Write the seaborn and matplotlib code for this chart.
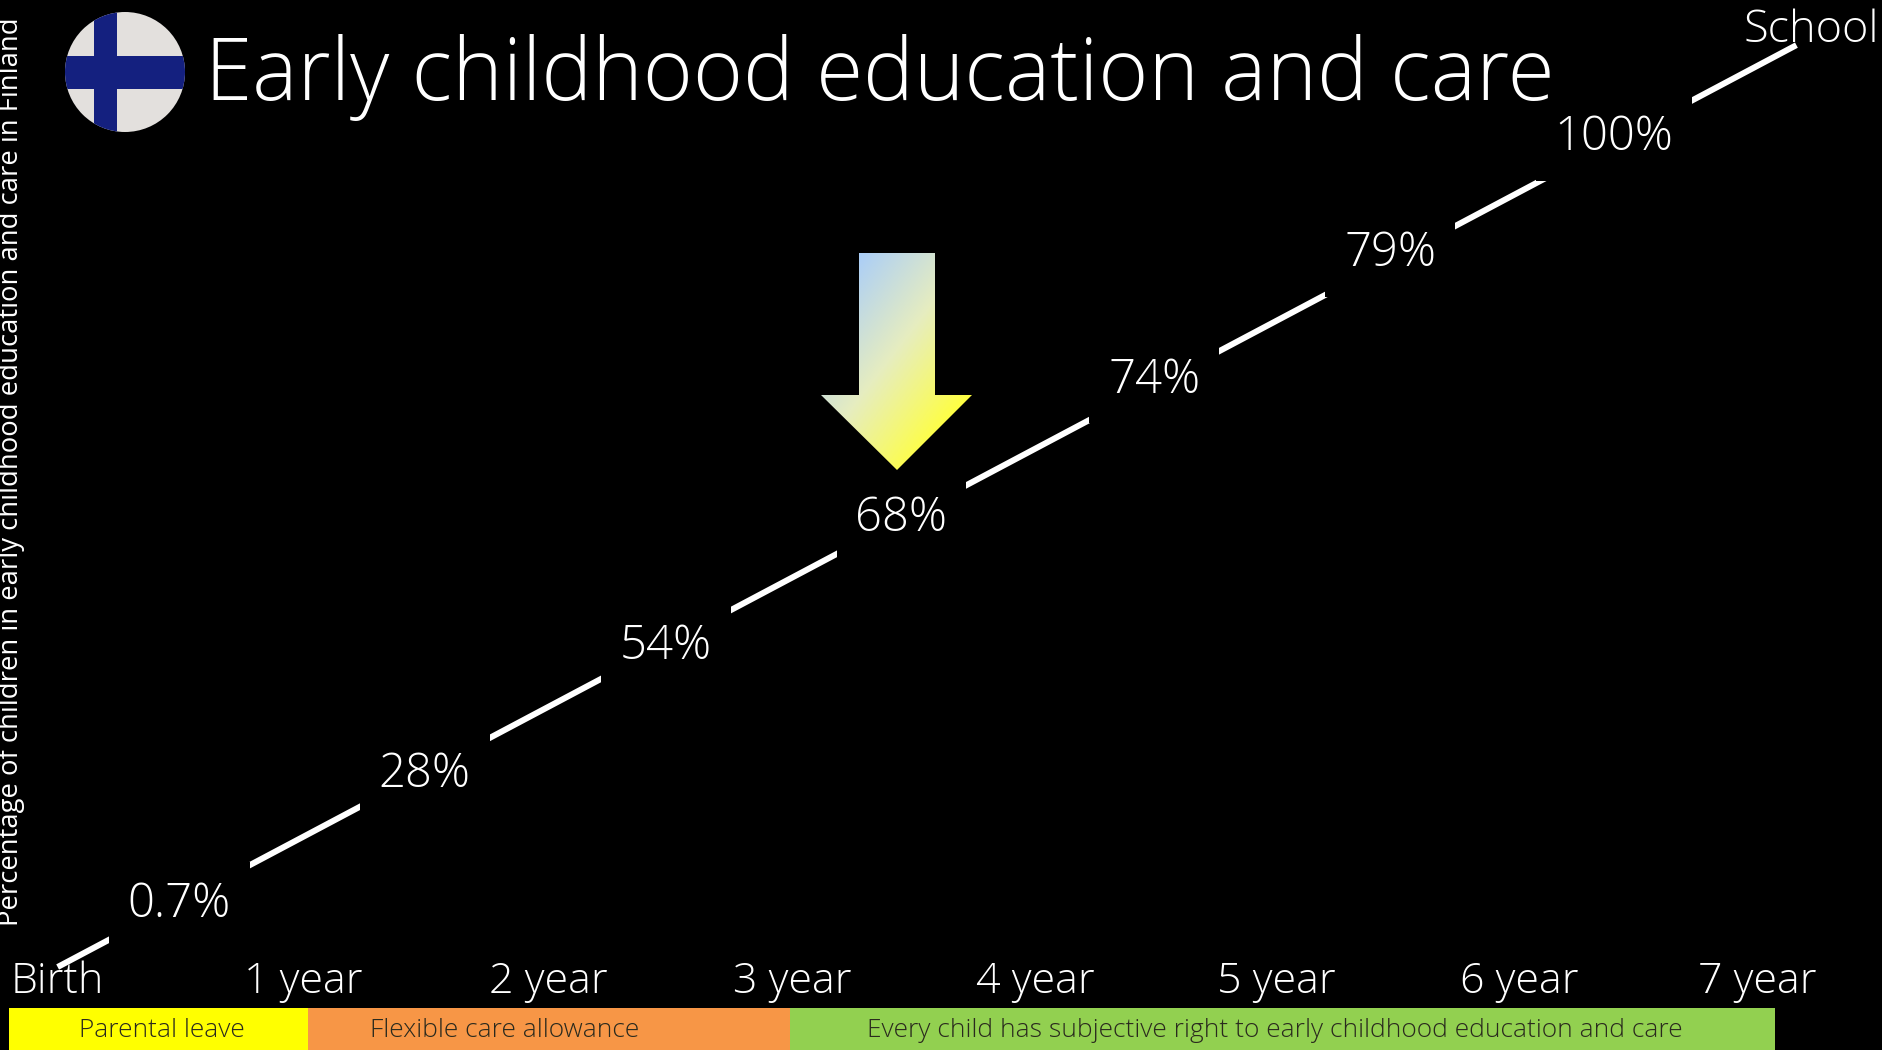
import numpy as np
import pandas as pd
import matplotlib
matplotlib.use("Agg")
import matplotlib.pyplot as plt
from matplotlib.colors import LinearSegmentedColormap, Normalize
from matplotlib.patches import Circle, Polygon, Rectangle
import seaborn as sns

# line through the age axis, gaps come from the black label boxes
line_age = [0, 0.5, 1.5, 2.5, 3.5, 4.5, 5.5, 6.45, 7.15]
line_level = [0, 0.5, 1.5, 2.5, 3.5, 4.5, 5.5, 6.45, 7.15]

label_age = [0.5, 1.51, 2.5, 3.47, 4.51, 5.48, 6.4]
label_level = [0.48, 1.49, 2.48, 3.48, 4.55, 5.53, 6.43]
label_text = ["0.7%", "28%", "54%", "68%", "74%", "79%", "100%"]

tick_age = [0, 1.01, 2.02, 3.02, 4.02, 5.01, 6.01, 6.99]
tick_text = ["Birth", "1 year", "2 year", "3 year", "4 year", "5 year", "6 year", "7 year"]

band_start = [-0.2, 1.03, 3.01]
band_end = [1.03, 3.01, 7.06]
band_label_age = [0.43, 1.837, 5.007]
band_text = ["Parental leave", "Flexible care allowance",
             "Every child has subjective right to early childhood education and care"]
band_color = ["#FFFF00", "#F79646", "#92D050"]

sns.set_theme(style="dark")
plt.rcParams["font.family"] = ["Open Sans", "DejaVu Sans"]
plt.rcParams["font.weight"] = "light"

W, H = 1883, 1050
fig = plt.figure(figsize=(W / 100, H / 100), dpi=100, facecolor="black")

# main axes, bottom edge on the start of the line
ax = fig.add_axes([0, 83 / H, 1, 967 / H], facecolor="none")
df = pd.DataFrame({"age": line_age, "level": line_level})
sns.lineplot(data=df, x="age", y="level", color="white", lw=4.3, ax=ax, clip_on=False,
             solid_capstyle="butt", zorder=2)
ax.set_xlim(-0.237, 7.506)
ax.set_ylim(0, 7.50)
ax.set_xlabel("")
ax.set_yticks([])
ax.set_xticks(tick_age)
ax.set_xticklabels(tick_text, color="white", fontsize=31)
ax.tick_params(axis="x", length=0, pad=-5)
ax.grid(False)
sns.despine(ax=ax, left=True, bottom=True)

for x, y, s in zip(label_age, label_level, label_text):
    ax.text(x, y, s, color="white", fontsize=34, ha="center", va="center", zorder=3,
            bbox=dict(boxstyle="square,pad=0.40", fc="black", ec="none"))
ax.text(7.21, 7.26, "School", color="white", fontsize=32.5, ha="center", va="center", zorder=4)

# age bands under the axis
ax.barh([-0.48] * 3, np.array(band_end) - np.array(band_start), left=band_start, height=0.324,
        color=band_color, linewidth=0, clip_on=False, zorder=1)
for x, s in zip(band_label_age, band_text):
    ax.text(x, -0.495, s, color="#2A2A1E", fontsize=19, ha="center", va="center", clip_on=False)

ax.set_ylabel("Percentage of children in early childhood education and care in Finland",
              color="white", fontsize=19.8)
ax.yaxis.set_label_coords(0.0135, 0.512)

# flag and arrow in pixel coordinates
deco = fig.add_axes([0, 0, 1, 1], facecolor="none")
deco.set_xlim(0, W)
deco.set_ylim(H, 0)
deco.axis("off")

circle = Circle((125, 72), 60, fc="#E3E0DD", ec="none")
deco.add_patch(circle)
for rect in [Rectangle((94, 0), 23, 140), Rectangle((60, 56), 130, 33)]:
    rect.set(fc="#14207F", ec="none")
    deco.add_patch(rect)
    rect.set_clip_path(circle)

arrow = Polygon([(859, 253), (935, 253), (935, 395), (972, 395), (897, 470), (821, 395), (859, 395)],
                closed=True, fc="none", ec="none")
deco.add_patch(arrow)
gx, gy = np.meshgrid(np.linspace(0, 1, 200), np.linspace(0, 1, 200))
cmap = LinearSegmentedColormap.from_list("arrow", ["#ABCEF8", "#E6EDC0", "#FFFF40"])
grad = deco.imshow((gx + gy * 1.1) / 2.1, cmap=cmap, norm=Normalize(0.12, 0.82),
                   extent=(821, 972, 470, 253), aspect="auto", zorder=2)
grad.set_clip_path(arrow)
deco.set_xlim(0, W)
deco.set_ylim(H, 0)

deco.text(205, 100, "Early childhood education and care", color="white", fontsize=61.6,
          ha="left", va="baseline")

fig.savefig("out.png", dpi=100, facecolor="black")
